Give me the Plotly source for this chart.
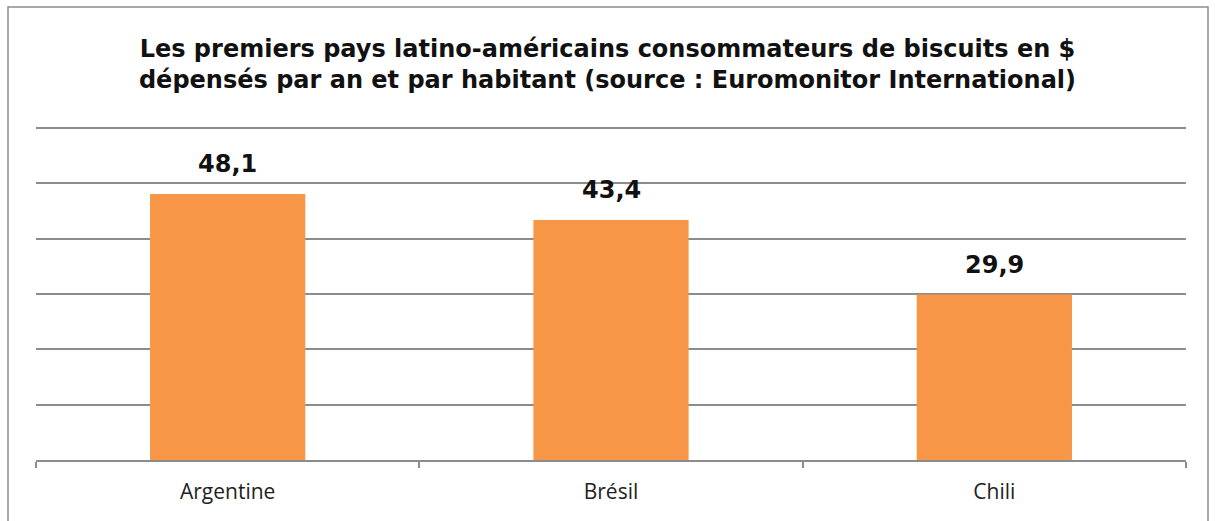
import plotly.graph_objects as go

countries = ["Argentine", "Brésil", "Chili"]
values = [48.1, 43.4, 29.9]
value_labels = ["48,1", "43,4", "29,9"]
title_lines = ["Les premiers pays latino-américains consommateurs de biscuits en $",
               "dépensés par an et par habitant (source : Euromonitor International)"]

W, H = 1215, 521
ml, mr, mt, mb = 36, 29, 127, 61
pw, ph = W - ml - mr, H - mt - mb

def px_x(p):
    return (p - ml) / pw

def px_y(p):
    return (H - mb - p) / ph

fig = go.Figure(go.Bar(
    x=countries, y=values,
    marker=dict(color="#F79646", line=dict(width=0)),
    width=0.405,
))

for c, v, t in zip(countries, values, value_labels):
    fig.add_annotation(x=c, y=v, text=t, showarrow=False, yanchor="bottom", yshift=14,
                       font=dict(family="DejaVu Sans", size=24, color="#111111", weight="bold"))

fig.update_layout(
    width=W, height=H, autosize=False,
    margin=dict(l=ml, r=mr, t=mt, b=mb),
    paper_bgcolor="white", plot_bgcolor="white",
    showlegend=False,
    font=dict(family="Open Sans", color="#222222"),
    title=dict(text="<br>".join(title_lines), x=0.5, xanchor="center",
               y=1 - 57 / H, yanchor="middle",
               font=dict(family="DejaVu Sans", size=24, color="#111111", weight="bold")),
    xaxis=dict(showline=True, linecolor="#8c8c8c", linewidth=1.5,
               ticks="outside", tickson="boundaries", ticklen=6, tickcolor="#8c8c8c",
               tickwidth=1.5, showgrid=False, ticklabelstandoff=12,
               tickfont=dict(family="Open Sans", size=21, color="#222222")),
    yaxis=dict(range=[0, 60.2], tickvals=[10, 20, 30, 40, 50, 60], showticklabels=False,
               showgrid=True, gridcolor="#8c8c8c", gridwidth=1.5, zeroline=False, showline=False),
    shapes=[dict(type="rect", xref="paper", yref="paper",
                 x0=px_x(8), x1=px_x(1208), y0=px_y(530), y1=px_y(7),
                 line=dict(color="#8c8c8c", width=1.5), fillcolor="rgba(0,0,0,0)",
                 layer="below")],
)

fig.write_html("out.html")
